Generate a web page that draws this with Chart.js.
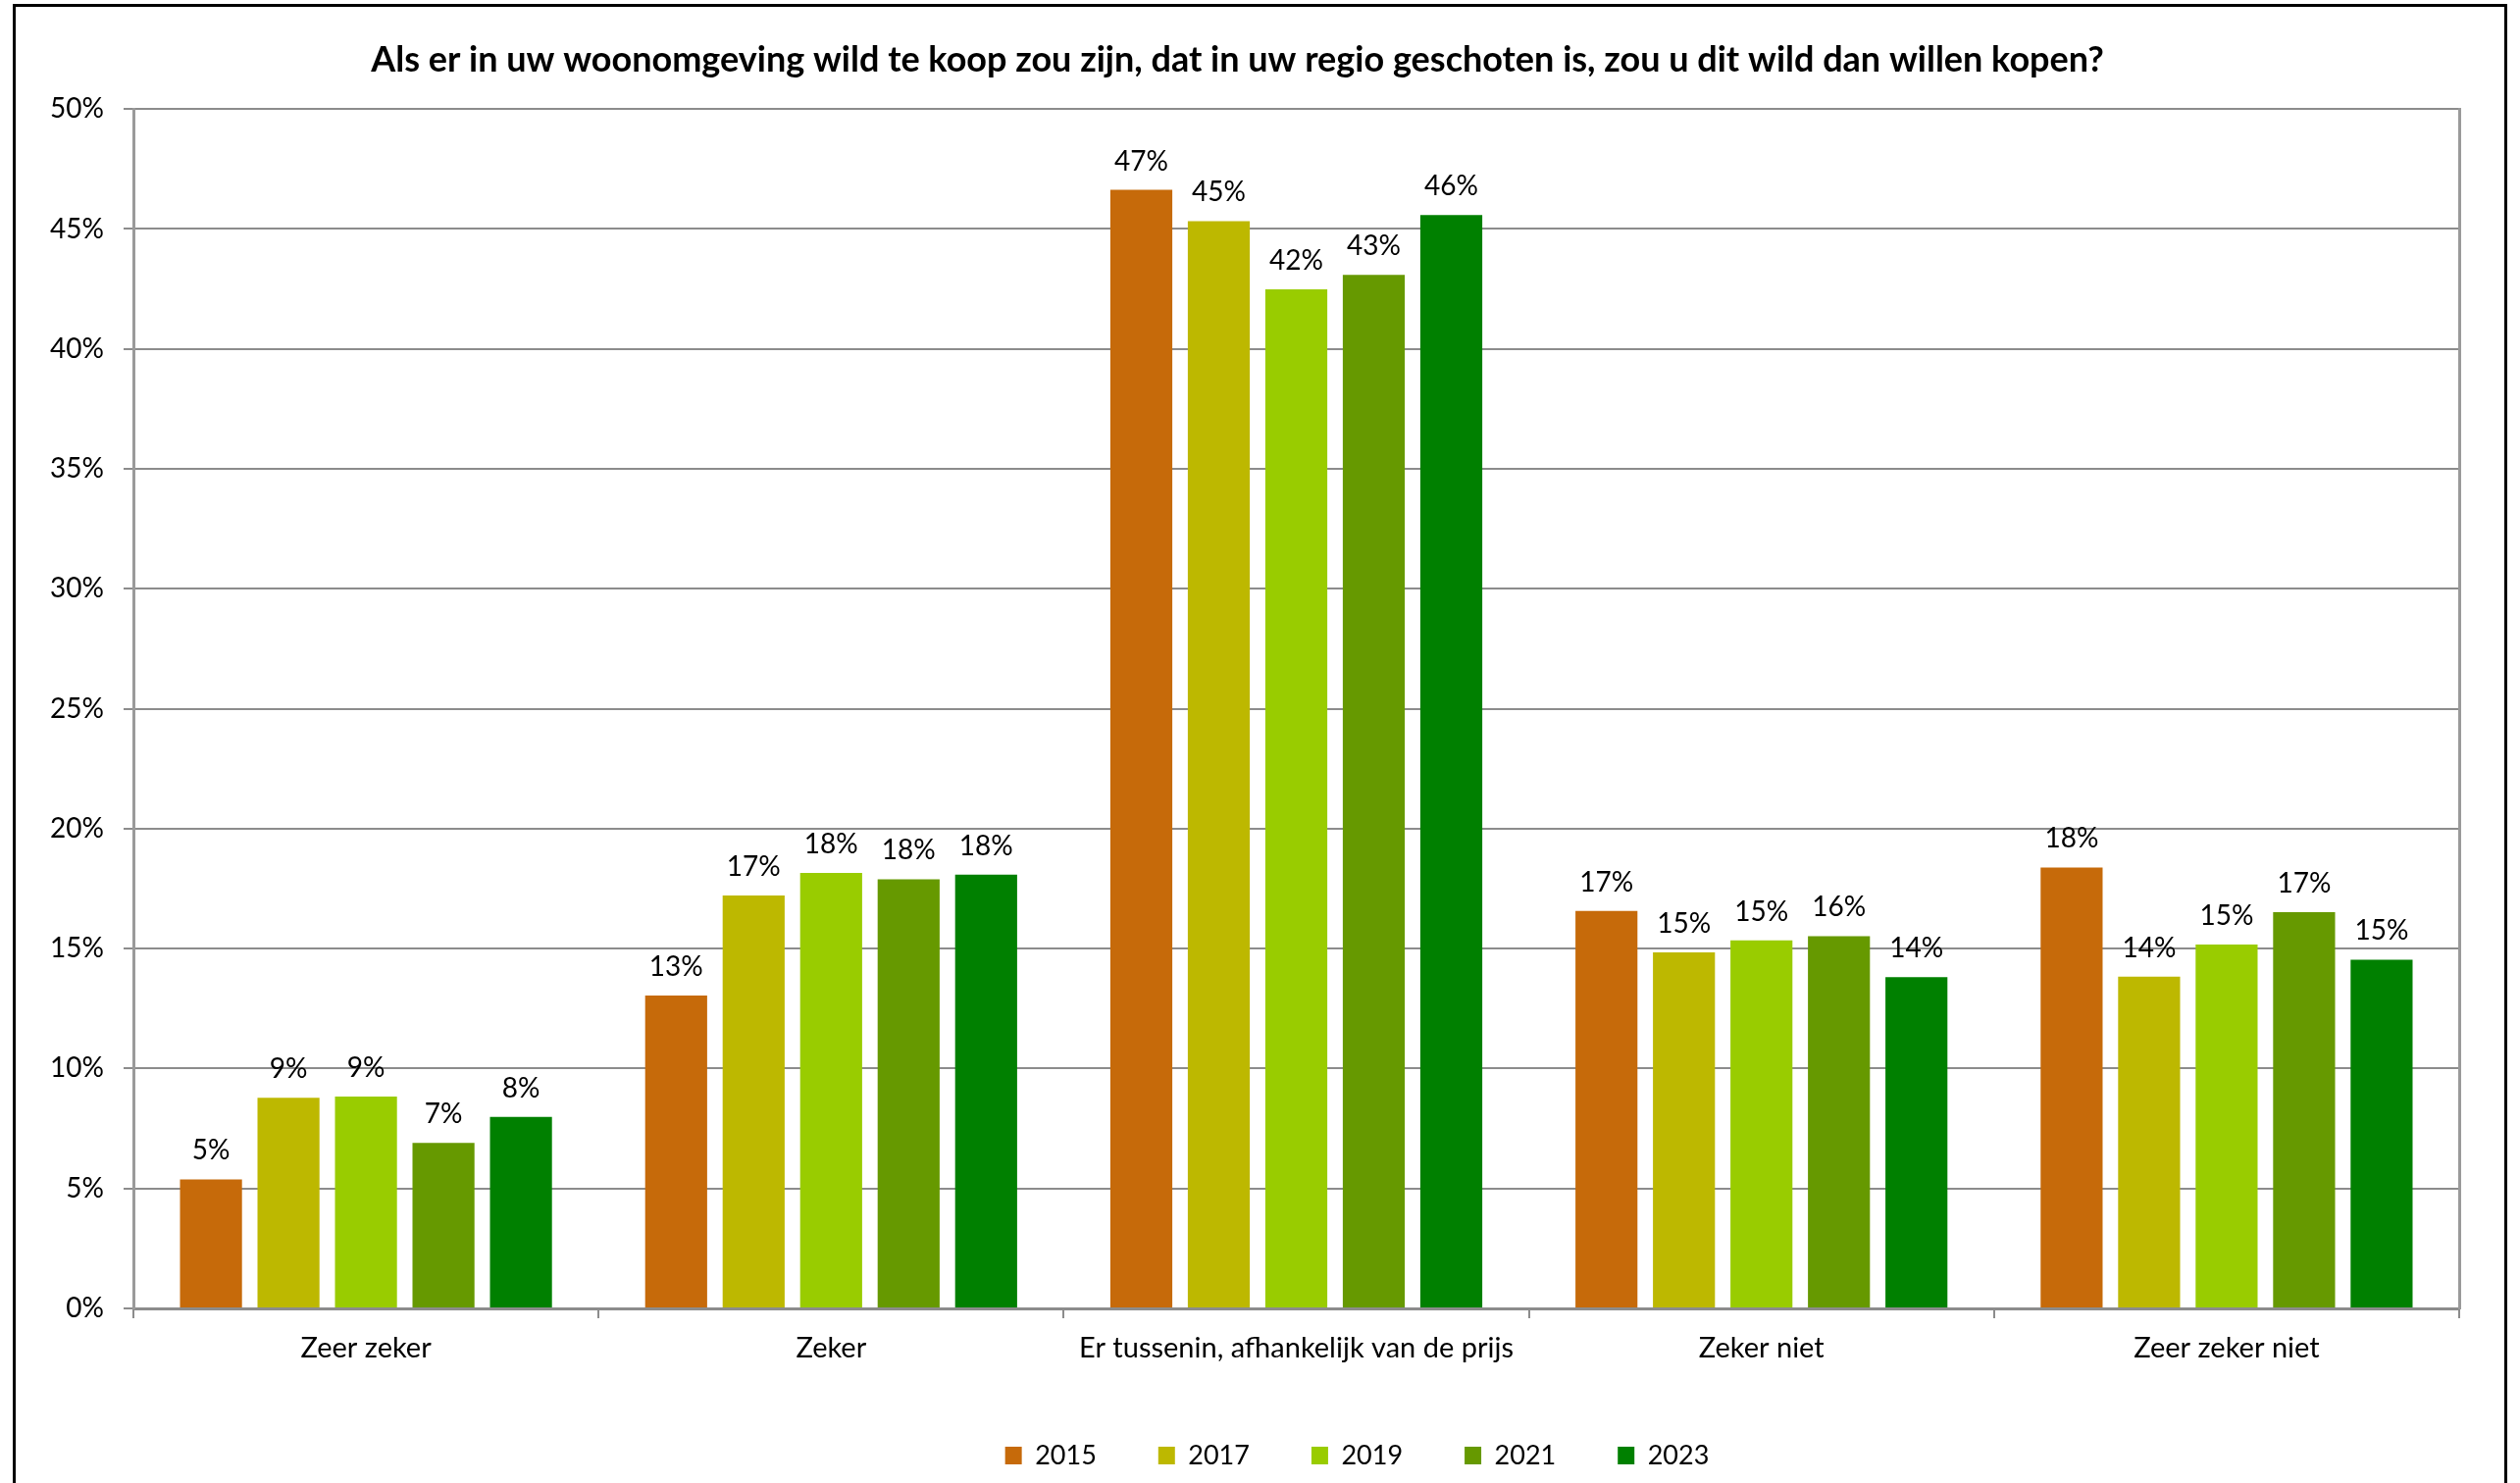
<!DOCTYPE html>
<html>
<head>
<meta charset="utf-8">
<title>Wild te koop</title>
<script src="https://cdn.jsdelivr.net/npm/chart.js@4.4.1/dist/chart.umd.min.js"></script>
<style>
  html, body { margin: 0; padding: 0; background: #fff; overflow: hidden; }
  #wrap { position: relative; width: 2569px; height: 1512px; }
  #frame { position: absolute; left: 13px; top: 4px; width: 2537px; height: 1600px; border: 3px solid #000; }
  #chart { position: absolute; left: 0; top: 0; }
</style>
</head>
<body>
<div id="wrap">
  <div id="frame"></div>
  <canvas id="chart" width="2569" height="1512"></canvas>
</div>
<script>
// answers on the x axis
const categories = ["Zeer zeker", "Zeker", "Er tussenin, afhankelijk van de prijs", "Zeker niet", "Zeer zeker niet"]

// survey years, one series each (percent)
const years = ["2015", "2017", "2019", "2021", "2023"]
const values2015 = [5.38, 13.04, 46.63, 16.57, 18.38]
const values2017 = [8.78, 17.21, 45.33, 14.84, 13.83]
const values2019 = [8.83, 18.15, 42.48, 15.34, 15.17]
const values2021 = [6.90, 17.89, 43.09, 15.52, 16.52]
const values2023 = [7.98, 18.08, 45.58, 13.81, 14.54]

const colors = ["#C66A0A", "#BDB800", "#99CC00", "#669900", "#008000"]

const yTicks = [0, 5, 10, 15, 20, 25, 30, 35, 40, 45, 50]

const FONT = "Lato, 'Open Sans', sans-serif"
const gridGray = "#8c8c8c"

// value labels above each bar
const barLabels = {
  id: "barLabels",
  afterDatasetsDraw(chart) {
    const ctx = chart.ctx
    ctx.save()
    ctx.font = "28px " + FONT
    ctx.fillStyle = "#000"
    ctx.textAlign = "center"
    ctx.textBaseline = "alphabetic"
    chart.data.datasets.forEach((ds, i) => {
      chart.getDatasetMeta(i).data.forEach((bar, j) => {
        ctx.fillText(Math.round(ds.data[j]) + "%", bar.x, bar.y - 20)
      })
    })
    ctx.restore()
  }
}

// excel put the legend a bit right of centre
const legendShift = {
  id: "legendShift",
  afterUpdate(chart) {
    chart.legend.left += 122
    chart.legend.right += 122
  }
}

const seriesValues = [values2015, values2017, values2019, values2021, values2023]

new Chart(document.getElementById("chart"), {
  type: "bar",
  data: {
    labels: categories,
    datasets: years.map((y, i) => ({
      label: y,
      data: seriesValues[i],
      backgroundColor: colors[i],
      borderWidth: 0,
      categoryPercentage: 0.833,
      barPercentage: 0.8
    }))
  },
  options: {
    responsive: false,
    animation: false,
    devicePixelRatio: 1,
    layout: { padding: { left: 16, right: 62, top: 0, bottom: 4.5 } },
    plugins: {
      title: {
        display: true,
        text: "Als er in uw woonomgeving wild te koop zou zijn, dat in uw regio geschoten is, zou u dit wild dan willen kopen?",
        color: "#000",
        font: { family: FONT, size: 36, weight: "bold" },
        padding: { top: 40, bottom: 28 }
      },
      legend: {
        position: "bottom",
        labels: {
          color: "#000",
          font: { family: FONT, size: 27 },
          boxWidth: 17,
          boxHeight: 18,
          padding: 63
        }
      },
      tooltip: { enabled: false }
    },
    scales: {
      x: {
        grid: { offset: true, drawOnChartArea: false, drawTicks: true, tickLength: 10, color: gridGray, lineWidth: 2 },
        border: { display: true, color: gridGray, width: 3 },
        ticks: { color: "#000", font: { family: FONT, size: 29 }, padding: 13, maxRotation: 0 },
        afterFit: (s) => { s.height = 73.5 }
      },
      y: {
        min: 0,
        max: 50,
        afterBuildTicks: (s) => { s.ticks = yTicks.map(v => ({ value: v })) },
        grid: { color: gridGray, lineWidth: 2, tickLength: 10 },
        border: { display: true, color: "#9a9a9a", width: 3 },
        ticks: { color: "#000", font: { family: FONT, size: 28 }, padding: 20, callback: (v) => v + "%" },
        afterFit: (s) => { s.width = 120 }
      },
      y2: {
        position: "right",
        min: 0,
        max: 50,
        grid: { display: false },
        ticks: { display: false },
        border: { display: true, color: "#9a9a9a", width: 3 },
        afterFit: (s) => { s.width = 0 }
      }
    }
  },
  plugins: [barLabels, legendShift]
})
</script>
</body>
</html>
